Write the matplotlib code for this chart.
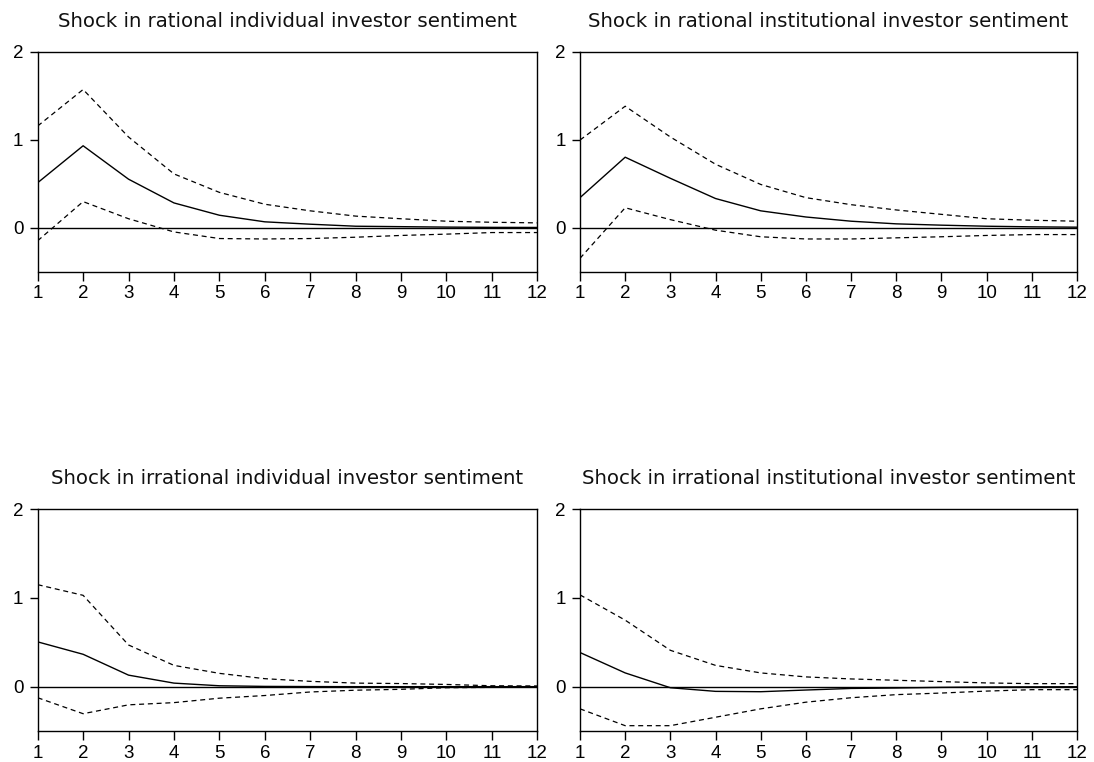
import matplotlib
matplotlib.use("Agg")
import matplotlib.pyplot as plt

periods = list(range(1, 13))

titles = [
    "Shock in rational individual investor sentiment",
    "Shock in rational institutional investor sentiment",
    "Shock in irrational individual investor sentiment",
    "Shock in irrational institutional investor sentiment",
]

# Panel 1: rational individual
resp_rat_ind = [0.51, 0.93, 0.55, 0.28, 0.14, 0.065, 0.038, 0.015, 0.01, 0.005, 0.002, 0.001]
upper_rat_ind = [1.155, 1.57, 1.03, 0.61, 0.40, 0.265, 0.19, 0.13, 0.10, 0.072, 0.06, 0.053]
lower_rat_ind = [-0.15, 0.295, 0.10, -0.05, -0.125, -0.13, -0.125, -0.11, -0.09, -0.075, -0.057, -0.057]

# Panel 2: rational institutional
resp_rat_ins = [0.34, 0.80, 0.56, 0.33, 0.19, 0.12, 0.072, 0.042, 0.027, 0.015, 0.008, 0.004]
upper_rat_ins = [0.995, 1.38, 1.03, 0.72, 0.49, 0.34, 0.26, 0.20, 0.15, 0.10, 0.083, 0.072]
lower_rat_ins = [-0.35, 0.225, 0.09, -0.03, -0.105, -0.13, -0.13, -0.117, -0.105, -0.09, -0.08, -0.08]

# Panel 3: irrational individual
resp_irr_ind = [0.505, 0.365, 0.13, 0.04, 0.01, 0.003, 0.001, 0.0, 0.0, 0.0, 0.0, 0.0]
upper_irr_ind = [1.15, 1.03, 0.47, 0.24, 0.15, 0.09, 0.06, 0.04, 0.035, 0.025, 0.01, 0.008]
lower_irr_ind = [-0.125, -0.305, -0.205, -0.18, -0.13, -0.10, -0.06, -0.04, -0.03, -0.012, -0.008, -0.006]

# Panel 4: irrational institutional
resp_irr_ins = [0.385, 0.155, -0.012, -0.053, -0.057, -0.038, -0.02, -0.015, -0.008, -0.004, -0.002, -0.001]
upper_irr_ins = [1.035, 0.75, 0.41, 0.24, 0.155, 0.11, 0.087, 0.072, 0.057, 0.042, 0.034, 0.034]
lower_irr_ins = [-0.25, -0.44, -0.44, -0.345, -0.25, -0.175, -0.125, -0.09, -0.072, -0.05, -0.034, -0.034]

responses = [resp_rat_ind, resp_rat_ins, resp_irr_ind, resp_irr_ins]
uppers = [upper_rat_ind, upper_rat_ins, upper_irr_ind, upper_irr_ins]
lowers = [lower_rat_ind, lower_rat_ins, lower_irr_ind, lower_irr_ins]

plt.rcParams['font.family'] = ['Liberation Sans', 'DejaVu Sans']

W, H = 1094, 762
fig = plt.figure(figsize=(W / 100, H / 100), dpi=100)

# axes boxes in pixels: (left, top, right, bottom)
boxes = [
    (37.7, 51.7, 537.3, 271.5),
    (580.0, 51.7, 1077.0, 271.5),
    (37.7, 509.3, 537.3, 731.0),
    (580.0, 509.3, 1077.0, 731.0),
]

for i, (l, t, r, b) in enumerate(boxes):
    ax = fig.add_axes([l / W, 1 - b / H, (r - l) / W, (b - t) / H])
    ax.axhline(0, color='black', lw=1.0, zorder=1)
    ax.plot(periods, responses[i], color='black', lw=1.0, zorder=3)
    ax.plot(periods, uppers[i], color='black', lw=0.9, linestyle=(0, (4, 3)), zorder=2)
    ax.plot(periods, lowers[i], color='black', lw=0.9, linestyle=(0, (4, 3)), zorder=2)
    ax.set_xlim(1, 12)
    ax.set_ylim(-0.5, 2)
    ax.set_xticks(periods)
    ax.set_yticks([0, 1, 2])
    ax.tick_params(axis='x', direction='out', length=6.3, width=1, labelsize=13.5,
                   colors='black', pad=3.5)
    ax.tick_params(axis='y', direction='out', length=5.8, width=1, labelsize=13.5,
                   colors='black', pad=4.5)
    for s in ax.spines.values():
        s.set_linewidth(1.0)
        s.set_color('black')
    ax.set_title(titles[i], fontsize=14.2, pad=18, family=['DejaVu Sans'],
                 color='#111111')

fig.savefig("out.png", dpi=100)
